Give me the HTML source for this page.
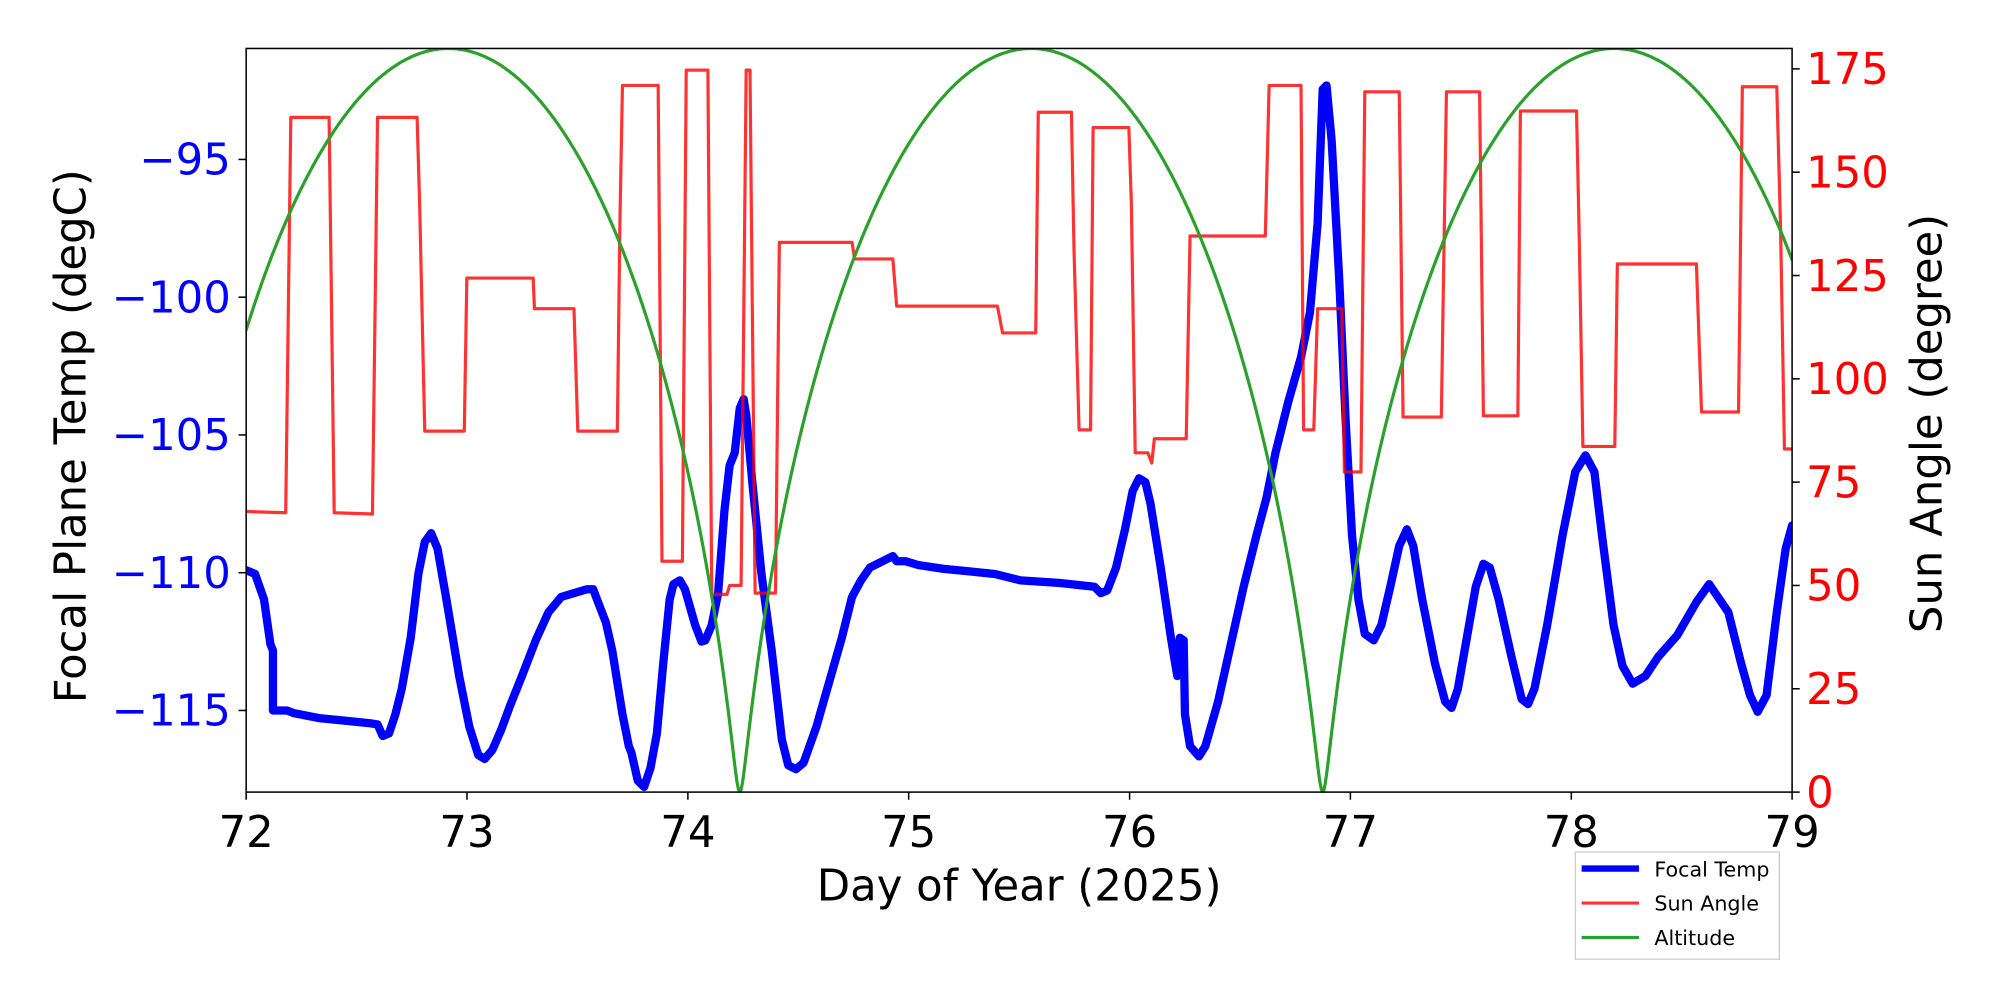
<!DOCTYPE html>
<html><head><meta charset="utf-8"><style>
html,body{margin:0;padding:0;background:#fff;}
svg{display:block;}
text{font-family:"DejaVu Sans","Liberation Sans",sans-serif;}
</style></head><body>
<svg id="s" width="2000" height="1000" viewBox="0 0 1568 784" xmlns="http://www.w3.org/2000/svg">
<rect width="1568" height="784" fill="#fff"/>
<defs><clipPath id="c"><rect x="193" y="38" width="1212" height="583"/></clipPath></defs>
<g clip-path="url(#c)" fill="none" stroke-linejoin="round" stroke-linecap="round">
<polyline stroke="#0000ff" stroke-width="6.5" points="193,447 200,450 207,470 212,505 214,510 214,557 225,557 230,559 250,563 270,565 290,567 296,568 300,577 305,575 310,560 315,540 322,500 328,450 333,425 338,418 343,430 350,470 360,530 368,570 375,592 380,595 386,588 393,572 400,553 410,528 420,502 430,480 440,468 450,465 460,462 465,462 470,475 475,488 480,510 488,560 493,585 495,590 500,612 505,617 510,602 515,575 520,520 525,470 528,458 533,455 537,462 545,490 550,503 553,502 558,490 563,465 568,400 572,365 576,355 580,320 583,313 585,325 590,380 597,450 605,510 613,580 618,600 624,603 630,598 640,570 650,535 660,500 668,468 675,455 682,445 692,440 700,436 703,440 710,440 720,443 740,446 760,448 780,450 800,455 830,457 858,460 863,465 868,463 875,445 882,415 888,385 893,375 898,378 902,395 910,445 918,500 923,530 925,500 928,502 929,560 933,585 940,593 945,585 955,550 965,505 975,460 985,420 993,390 1000,355 1010,315 1020,280 1027,245 1033,175 1037,70 1040,67 1044,110 1050,220 1055,330 1060,420 1065,470 1070,497 1077,502 1083,490 1090,460 1097,428 1103,415 1108,428 1115,470 1125,520 1133,550 1138,555 1143,540 1150,500 1157,460 1163,442 1168,445 1175,470 1185,515 1193,548 1198,552 1203,540 1213,490 1225,420 1235,370 1243,357 1250,370 1256,420 1265,490 1272,522 1280,536 1290,530 1300,515 1315,498 1330,472 1340,458 1355,480 1365,520 1372,545 1378,558 1385,545 1393,480 1400,430 1405,412"/>
<polyline stroke="#ff0000" stroke-opacity="0.8" stroke-width="2.5" points="193,401 224,402 228,92 258,92 262,402 292,403 296,92 327,92 329,160 333,338 364,338 366,218 418,218 419,242 450,242 453,338 484,338 486,175 488,67 516,67 519,440 535,440 538,55 555,55 558,466 570,466 572,459 581,459 585,55 588,55 592,465 608,465 611,190 668,190 670,203 700,203 703,240 782,240 786,261 812,261 814,88 840,88 842,195 846,337 855,337 857,100 885,100 887,160 890,355 900,355 903,363 905,344 930,344 933,185 992,185 995,67 1020,67 1022,337 1030,337 1033,242 1052,242 1054,370 1067,370 1070,72 1097,72 1100,327 1130,327 1134,72 1160,72 1163,326 1190,326 1192,87 1236,87 1238,180 1241,350 1266,350 1268,207 1330,207 1334,323 1363,323 1366,68 1393,68 1396,180 1399,352 1405,352"/>
<polyline id="g" stroke="#2ca02c" stroke-width="2.5" points=""/>
</g>
<rect x="193" y="38" width="1212" height="583" fill="none" stroke="#000" stroke-width="1.2"/>
<g stroke="#000" stroke-width="1.2">
<line x1="193" y1="621" x2="193" y2="627"/><line x1="366.1" y1="621" x2="366.1" y2="627"/><line x1="539.3" y1="621" x2="539.3" y2="627"/><line x1="712.4" y1="621" x2="712.4" y2="627"/><line x1="885.6" y1="621" x2="885.6" y2="627"/><line x1="1058.7" y1="621" x2="1058.7" y2="627"/><line x1="1231.9" y1="621" x2="1231.9" y2="627"/><line x1="1405" y1="621" x2="1405" y2="627"/>
<line x1="187" y1="125" x2="193" y2="125"/><line x1="187" y1="233" x2="193" y2="233"/><line x1="187" y1="341" x2="193" y2="341"/><line x1="187" y1="449" x2="193" y2="449"/><line x1="187" y1="557" x2="193" y2="557"/>
<line x1="1405" y1="621" x2="1411" y2="621"/><line x1="1405" y1="540" x2="1411" y2="540"/><line x1="1405" y1="459" x2="1411" y2="459"/><line x1="1405" y1="378" x2="1411" y2="378"/><line x1="1405" y1="297" x2="1411" y2="297"/><line x1="1405" y1="216" x2="1411" y2="216"/><line x1="1405" y1="135" x2="1411" y2="135"/><line x1="1405" y1="54" x2="1411" y2="54"/>
</g>
<g font-size="34" text-anchor="middle" fill="#000">
<text x="193" y="664">72</text><text x="366.1" y="664">73</text><text x="539.3" y="664">74</text><text x="712.4" y="664">75</text><text x="885.6" y="664">76</text><text x="1058.7" y="664">77</text><text x="1231.9" y="664">78</text><text x="1405" y="664">79</text>
</g>
<g font-size="34" text-anchor="end" fill="#0000ff">
<text x="181" y="137">−95</text><text x="181" y="245">−100</text><text x="181" y="353">−105</text><text x="181" y="461">−110</text><text x="181" y="569">−115</text>
</g>
<g font-size="34" text-anchor="start" fill="#ff0000">
<text x="1416" y="633">0</text><text x="1416" y="552">25</text><text x="1416" y="471">50</text><text x="1416" y="390">75</text><text x="1416" y="309">100</text><text x="1416" y="228">125</text><text x="1416" y="147">150</text><text x="1416" y="66">175</text>
</g>
<text x="799" y="706" font-size="34" text-anchor="middle">Day of Year (2025)</text>
<text transform="translate(67,342) rotate(-90)" font-size="34" text-anchor="middle">Focal Plane Temp (degC)</text>
<text transform="translate(1522,332) rotate(-90)" font-size="34" text-anchor="middle">Sun Angle (degree)</text>
<rect x="1235" y="668" width="160" height="84" fill="#fff" stroke="#ccc" stroke-width="1"/>
<line x1="1240" y1="681" x2="1285" y2="681" stroke="#0000ff" stroke-width="5"/>
<line x1="1240" y1="708" x2="1285" y2="708" stroke="#ff0000" stroke-opacity="0.8" stroke-width="2.5"/>
<line x1="1240" y1="735" x2="1285" y2="735" stroke="#2ca02c" stroke-width="2.5"/>
<g font-size="16.2" fill="#000"><text x="1297" y="687">Focal Temp</text><text x="1297" y="714">Sun Angle</text><text x="1297" y="741">Altitude</text></g>
</svg>
<script>
(function(){
var e=0.88,P=457,z=580,pts=[];
for(var x=193;x<=1405;x+=1){
var M=2*Math.PI*(x-z)/P;M=((M%(2*Math.PI))+2*Math.PI)%(2*Math.PI);
var E=M+e*Math.sin(M);
for(var i=0;i<50;i++){E=E-(E-e*Math.sin(E)-M)/(1-e*Math.cos(E));}
var v=(1-Math.cos(E))/2;
pts.push(x+","+(621-583*v).toFixed(1));
}
document.getElementById("g").setAttribute("points",pts.join(" "));
})();
</script>
</body></html>
